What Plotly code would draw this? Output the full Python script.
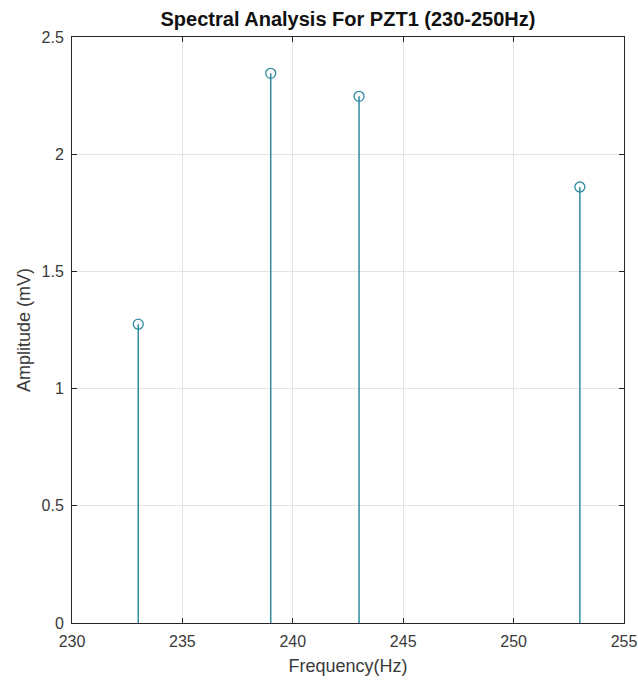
import plotly.graph_objects as go

# Spectral peaks for PZT1 in the 230-250 Hz band
freq_hz = [233, 239, 243, 253]
amplitude_mv = [1.275, 2.345, 2.247, 1.86]

x_ticks = [230, 235, 240, 245, 250, 255]
y_ticks = [0, 0.5, 1, 1.5, 2, 2.5]
y_tick_text = ["0", "0.5", "1", "1.5", "2", "2.5"]

stem_color = "#2f8aa0"
axis_color = "#262626"
font_family = "Liberation Sans, Arial, sans-serif"
tick_font = dict(family=font_family, size=16, color="#3a3a3a")
label_font = dict(family=font_family, size=18, color="#3a3a3a")

# Build stem line segments from the data (baseline to value)
stem_x, stem_y = [], []
for f, a in zip(freq_hz, amplitude_mv):
    stem_x += [f, f, None]
    stem_y += [0, a, None]

fig = go.Figure()
fig.add_trace(go.Scatter(
    x=stem_x, y=stem_y, mode="lines",
    line=dict(color=stem_color, width=1.5),
    hoverinfo="skip", showlegend=False,
))
fig.add_trace(go.Scatter(
    x=freq_hz, y=amplitude_mv, mode="markers",
    marker=dict(symbol="circle-open", size=10, color=stem_color, line=dict(width=1.3)),
    showlegend=False,
))

fig.update_layout(
    width=638, height=682,
    margin=dict(l=72, r=14, t=37, b=59),
    paper_bgcolor="white", plot_bgcolor="white",
    title=dict(
        text="<b>Spectral Analysis For PZT1 (230-250Hz)</b>",
        x=0.5, xanchor="center", xref="paper",
        y=1 - 19 / 682, yanchor="middle",
        font=dict(family=font_family, size=20, color="#111111"),
    ),
    font=tick_font,
)

fig.update_xaxes(
    range=[230, 255], tickvals=x_ticks, ticktext=[str(t) for t in x_ticks],
    showgrid=True, gridcolor="#e3e3e3", gridwidth=1,
    showline=True, linecolor=axis_color, linewidth=1, mirror="allticks",
    ticks="inside", ticklen=5, tickcolor=axis_color,
    zeroline=False, tickfont=tick_font, ticklabelstandoff=4, automargin=False,
    title=dict(text="Frequency(Hz)", standoff=10, font=label_font),
)
fig.update_yaxes(
    range=[0, 2.5], tickvals=y_ticks, ticktext=y_tick_text,
    showgrid=True, gridcolor="#e3e3e3", gridwidth=1,
    showline=True, linecolor=axis_color, linewidth=1, mirror="allticks",
    ticks="inside", ticklen=5, tickcolor=axis_color,
    zeroline=False, tickfont=tick_font, ticklabelstandoff=4, automargin=False,
    title=dict(text="Amplitude (mV)", standoff=6, font=label_font),
)

fig.write_html("out.html")
